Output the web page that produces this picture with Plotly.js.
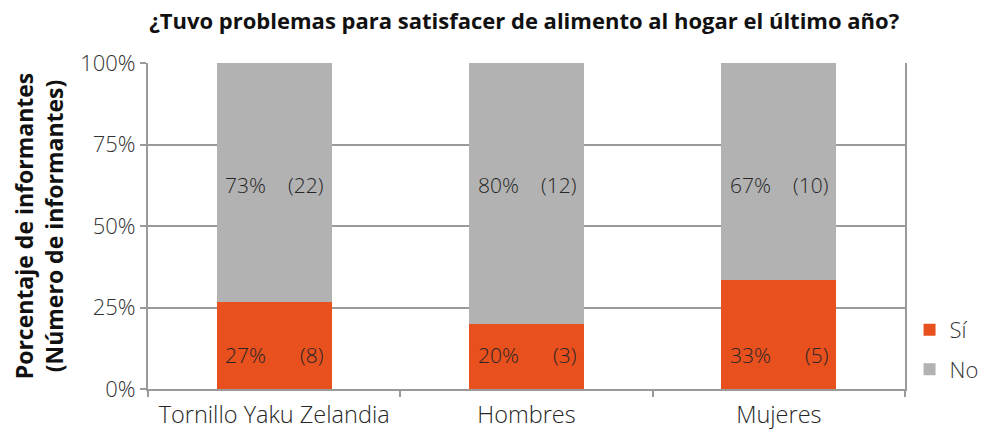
<!DOCTYPE html>
<html>
<head>
<meta charset="utf-8">
<script src="https://cdn.plot.ly/plotly-3.0.1.min.js"></script>
<style>html,body{margin:0;padding:0;background:#fff}#chart{width:985px;height:434px}</style>
</head>
<body>
<div id="chart"></div>
<script>
const categories = ['Tornillo Yaku Zelandia', 'Hombres', 'Mujeres'];
const siPct = [26.7, 20.0, 33.3];
const noPct = [73.3, 80.0, 66.7];
const siCount = [8, 3, 5];
const noCount = [22, 12, 10];
const yTickVals = [0, 25, 50, 75, 100];
const yTickText = ['0%', '25%', '50%', '75%', '100%'];
const seriesNames = ['Sí', 'No'];

const FONT = '"Open Sans", sans-serif';
const TXT = '#262626';

const traces = [
  {type: 'bar', name: seriesNames[0], x: categories, y: siPct, marker: {color: '#E8501E'},
   width: 0.455, legendgroup: 'a', hoverinfo: 'none'},
  {type: 'bar', name: seriesNames[1], x: categories, y: noPct, marker: {color: '#B2B2B2'},
   width: 0.455, legendgroup: 'b', hoverinfo: 'none'}
];

const annotations = [];
categories.forEach((c, i) => {
  const f = {family: FONT, size: 21, color: TXT, weight: 300};
  annotations.push({x: c, y: 10.4, xref: 'x', yref: 'y', text: Math.round(siPct[i]) + '%', showarrow: false,
    xanchor: 'left', xshift: -51, font: f});
  annotations.push({x: c, y: 10.4, xref: 'x', yref: 'y', text: '(' + siCount[i] + ')', showarrow: false,
    xanchor: 'right', xshift: 51, font: f});
  annotations.push({x: c, y: 62.6, xref: 'x', yref: 'y', text: Math.round(noPct[i]) + '%', showarrow: false,
    xanchor: 'left', xshift: -51, font: f});
  annotations.push({x: c, y: 62.6, xref: 'x', yref: 'y', text: '(' + noCount[i] + ')', showarrow: false,
    xanchor: 'right', xshift: 51, font: f});
});

const layout = {
  width: 985, height: 434,
  margin: {l: 148, r: 80, t: 63, b: 45, autoexpand: false},
  paper_bgcolor: '#fff', plot_bgcolor: '#fff',
  barmode: 'stack',
  font: {family: FONT, size: 21, color: TXT},
  title: {text: '<b>¿Tuvo problemas para satisfacer de alimento al hogar el último año?</b>',
    x: 0.497, xanchor: 'center', xref: 'paper', y: 0.95, yanchor: 'middle', font: {family: FONT, size: 22, color: '#111'}},
  xaxis: {
    showgrid: false, showline: true, linecolor: '#9A9A9A', linewidth: 2,
    ticks: 'outside', tickson: 'boundaries', ticklen: 6, tickcolor: '#9A9A9A', tickwidth: 2,
    ticklabelstandoff: 4,
    tickfont: {family: FONT, size: 23.5, color: TXT, weight: 300}, fixedrange: true, automargin: false
  },
  yaxis: {
    range: [0, 100], tickvals: yTickVals, ticktext: yTickText,
    showgrid: true, gridcolor: '#9A9A9A', gridwidth: 2,
    showline: true, mirror: true, linecolor: '#9A9A9A', linewidth: 2,
    ticks: 'outside', ticklen: 6, tickcolor: '#9A9A9A', tickwidth: 2,
    zeroline: false, automargin: false,
    tickfont: {family: FONT, size: 22, color: '#333', weight: 300},
    title: {text: '<b>Porcentaje de informantes<br>(Número de informantes)</b>', standoff: 10,
      font: {family: FONT, size: 23, color: '#111'}}
  },
  legend: {x: 1.006, xanchor: 'left', y: 0.12, yanchor: 'middle', traceorder: 'grouped',
    tracegroupgap: 8, font: {family: FONT, size: 22, color: '#333', weight: 300}, bgcolor: 'rgba(0,0,0,0)'},
  annotations: annotations,
  showlegend: true
};

Plotly.newPlot('chart', traces, layout, {displayModeBar: false, staticPlot: true});
</script>
</body>
</html>
